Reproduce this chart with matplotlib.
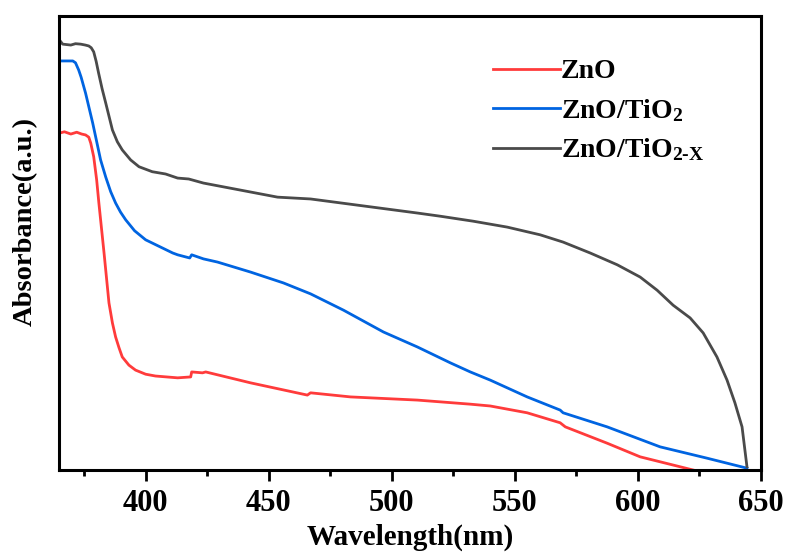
import matplotlib
matplotlib.use("Agg")
import matplotlib.pyplot as plt

plt.rcParams['font.family'] = ['Liberation Serif', 'DejaVu Serif']
plt.rcParams['font.weight'] = 'bold'
plt.rcParams['mathtext.fontset'] = 'custom'
plt.rcParams['mathtext.rm'] = 'Liberation Serif:bold'
plt.rcParams['mathtext.bf'] = 'Liberation Serif:bold'
plt.rcParams['mathtext.it'] = 'Liberation Serif:bold'

# ZnO
wl_zno = [365, 367, 369.6, 372, 374, 375.6, 376.9, 377.7, 378.9, 380.1, 381.0, 383.1, 385.1,
          386.5, 387.8, 389.2, 390.5, 393.2, 395.9, 400, 404, 413, 418.3, 418.7, 423.1,
          424.4, 442.6, 465.7, 467, 483.2, 510.4, 531.9, 540, 555, 568.4, 570.5, 587.5,
          600.9, 622.4]
abs_zno = [0.742, 0.745, 0.740, 0.744, 0.740, 0.738, 0.733, 0.720, 0.690, 0.639, 0.588, 0.478,
           0.368, 0.324, 0.293, 0.269, 0.249, 0.231, 0.220, 0.211, 0.207, 0.203, 0.205, 0.216,
           0.214, 0.216, 0.192, 0.165, 0.170, 0.161, 0.154, 0.145, 0.141, 0.126, 0.104, 0.095,
           0.059, 0.029, 0.000]

# ZnO/TiO2
wl_zt = [365, 370.4, 371.5, 372.8, 373.8, 375.6, 378.5, 381.7, 383.8, 385.8, 387.8, 389.8,
         391.9, 395.5, 400, 411, 413, 417.9, 418.7, 423.5, 429.2, 442.6, 456, 467, 480.4,
         496.6, 510.4, 523.8, 531.9, 540, 555, 568.4, 569.6, 587.5, 609, 628.1, 644.3]
abs_zt = [0.901, 0.901, 0.897, 0.881, 0.865, 0.830, 0.764, 0.683, 0.645, 0.613, 0.588, 0.568,
          0.551, 0.527, 0.507, 0.478, 0.474, 0.467, 0.474, 0.465, 0.458, 0.436, 0.412, 0.388,
          0.352, 0.304, 0.271, 0.236, 0.216, 0.198, 0.161, 0.132, 0.126, 0.095, 0.051, 0.026,
          0.004]

# ZnO/TiO2-X
wl_ztx = [365, 366.3, 368, 369.6, 371.5, 373.6, 375.5, 376.9, 377.9, 378.9, 379.9, 380.9,
          382.3, 383.8, 386.5, 388.5, 390.5, 393.9, 397.3, 402.7, 408.1, 413, 417.5, 423.5,
          453.6, 467, 510.4, 519.7, 533.1, 546.9, 560.3, 569.6, 580.6, 591.6, 600.9, 607.8,
          614.3, 621.2, 626.5, 632.1, 636.2, 639.4, 642.3, 644.3]
abs_ztx = [0.947, 0.938, 0.937, 0.936, 0.939, 0.938, 0.936, 0.934, 0.930, 0.921, 0.900, 0.874,
           0.840, 0.808, 0.749, 0.723, 0.705, 0.683, 0.668, 0.657, 0.652, 0.643, 0.641, 0.632,
           0.601, 0.597, 0.566, 0.559, 0.548, 0.535, 0.518, 0.502, 0.478, 0.452, 0.425, 0.396,
           0.363, 0.335, 0.302, 0.249, 0.198, 0.148, 0.095, 0.007]

labels = ['ZnO', r'ZnO/TiO$_\mathbf{2}$', r'ZnO/TiO$_\mathbf{2\text{-}X}$']
colors = ['#ff3b3b', '#0064e1', '#4a4a4a']
xticks = [400, 450, 500, 550, 600, 650]
xminor = [375, 425, 475, 525, 575, 625]

fig = plt.figure(figsize=(7.85, 5.54), dpi=100)
ax = fig.add_axes([59 / 785, 1 - 470 / 554, (761 - 59) / 785, (470 - 16) / 554])

for x, y, lab, c in zip([wl_zno, wl_zt, wl_ztx], [abs_zno, abs_zt, abs_ztx], labels, colors):
    ax.plot(x, y, color=c, lw=2.0, label=lab, solid_joinstyle='round')

ax.set_xlim(364.8, 650)
ax.set_ylim(0, 1.0)
ax.set_xticks(xticks)
ax.set_xticks(xminor, minor=True)
ax.set_yticks([])
ax.tick_params(axis='x', which='major', direction='out', length=8, width=2, labelsize=22, pad=6)
ax.tick_params(axis='x', which='minor', direction='out', length=4.5, width=2)
for lbl in ax.get_xticklabels():
    lbl.set_fontweight('bold')
for s in ax.spines.values():
    s.set_linewidth(2.2)

ax.set_xlabel('Wavelength(nm)', fontsize=21, fontweight='bold', labelpad=4)
ax.set_ylabel('Absorbance(a.u.)', fontsize=20.5, fontweight='bold')
ax.yaxis.set_label_coords(-0.03, 0.548)

leg = ax.legend(loc='upper left', bbox_to_anchor=(493 / 785, 1 - 59 / 554),
                bbox_transform=fig.transFigure, frameon=False,
                handlelength=2.4, handletextpad=0.04, borderpad=0, borderaxespad=0,
                labelspacing=0.45, prop={'weight': 'bold', 'size': 20})

fig.savefig('out.png', dpi=100)
